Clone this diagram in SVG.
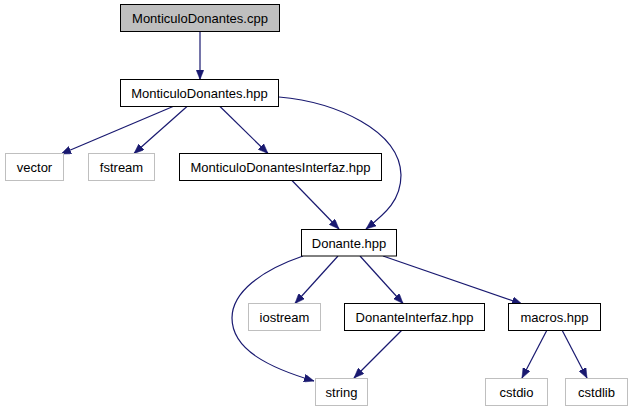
<svg xmlns="http://www.w3.org/2000/svg" width="631" height="411" viewBox="0 0 631 411">
<style>
.box{fill:#fff;stroke:#000;stroke-width:1}
.cur{fill:#bfbfbf;stroke:#000;stroke-width:1}
.ext{fill:#fff;stroke:#bfbfbf;stroke-width:1}
text{font-family:"Liberation Sans",Arial,sans-serif;font-size:13px;fill:#000;text-anchor:middle}
.e{fill:none;stroke:#191970;stroke-width:1.2}
</style>
<defs>
<marker id="a" markerUnits="userSpaceOnUse" markerWidth="11" markerHeight="8" refX="10" refY="4" orient="auto">
<path d="M0,0 L10,4 L0,8 z" fill="#191970" stroke="#191970" stroke-width="0.5"/>
</marker>
</defs>
<rect width="631" height="411" fill="#fff"/>
<g id="edges">
<path class="e" marker-end="url(#a)" d="M200,31.5 L200,79.5"/>
<path class="e" marker-end="url(#a)" d="M173,106.5 L61,154"/>
<path class="e" marker-end="url(#a)" d="M187,106.5 L134,153.5"/>
<path class="e" marker-end="url(#a)" d="M220,106.5 L268,153.5"/>
<path class="e" marker-end="url(#a)" d="M279,97 C335,102 400,130 401,175 C401,200 386,213 366,229"/>
<path class="e" marker-end="url(#a)" d="M292,180.5 L339,229"/>
<path class="e" marker-end="url(#a)" d="M303,256 C262,270 232,292 232,318 C232,350 270,368 314,381"/>
<path class="e" marker-end="url(#a)" d="M338,256 L295,303.5"/>
<path class="e" marker-end="url(#a)" d="M360,256 L403,303.5"/>
<path class="e" marker-end="url(#a)" d="M383,256 L522,304"/>
<path class="e" marker-end="url(#a)" d="M402,330 L354,378"/>
<path class="e" marker-end="url(#a)" d="M547,330 L522,378"/>
<path class="e" marker-end="url(#a)" d="M562,330 L587,378"/>
</g>
<g id="MonticuloDonantes_cpp"><rect class="cur" x="120.5" y="4.5" width="159" height="27"/><text x="200" y="22.5">MonticuloDonantes.cpp</text></g>
<g id="MonticuloDonantes_hpp"><rect class="box" x="120.5" y="79.5" width="158" height="27"/><text x="199.5" y="97.5">MonticuloDonantes.hpp</text></g>
<g id="vector"><rect class="ext" x="5.5" y="153.5" width="58" height="27"/><text x="34.5" y="171.5">vector</text></g>
<g id="fstream"><rect class="ext" x="88.5" y="153.5" width="66" height="27"/><text x="121.5" y="171.5">fstream</text></g>
<g id="MonticuloDonantesInterfaz_hpp"><rect class="box" x="179.5" y="153.5" width="202" height="27"/><text x="280.5" y="171.5">MonticuloDonantesInterfaz.hpp</text></g>
<g id="Donante_hpp"><rect class="box" x="301.5" y="229.5" width="95" height="26.5"/><text x="349" y="247.5">Donante.hpp</text></g>
<g id="iostream"><rect class="ext" x="248.5" y="303.5" width="72" height="27"/><text x="284.5" y="321.5">iostream</text></g>
<g id="DonanteInterfaz_hpp"><rect class="box" x="344.5" y="303.5" width="140" height="27"/><text x="414.5" y="321.5">DonanteInterfaz.hpp</text></g>
<g id="macros_hpp"><rect class="box" x="508.5" y="303.5" width="92" height="27"/><text x="554.5" y="321.5">macros.hpp</text></g>
<g id="string"><rect class="ext" x="315.5" y="378.5" width="52" height="27"/><text x="341.5" y="396.5">string</text></g>
<g id="cstdio"><rect class="ext" x="485.5" y="378.5" width="62" height="27"/><text x="516.5" y="396.5">cstdio</text></g>
<g id="cstdlib"><rect class="ext" x="565.5" y="378.5" width="62" height="27"/><text x="596.5" y="396.5">cstdlib</text></g>
</svg>
